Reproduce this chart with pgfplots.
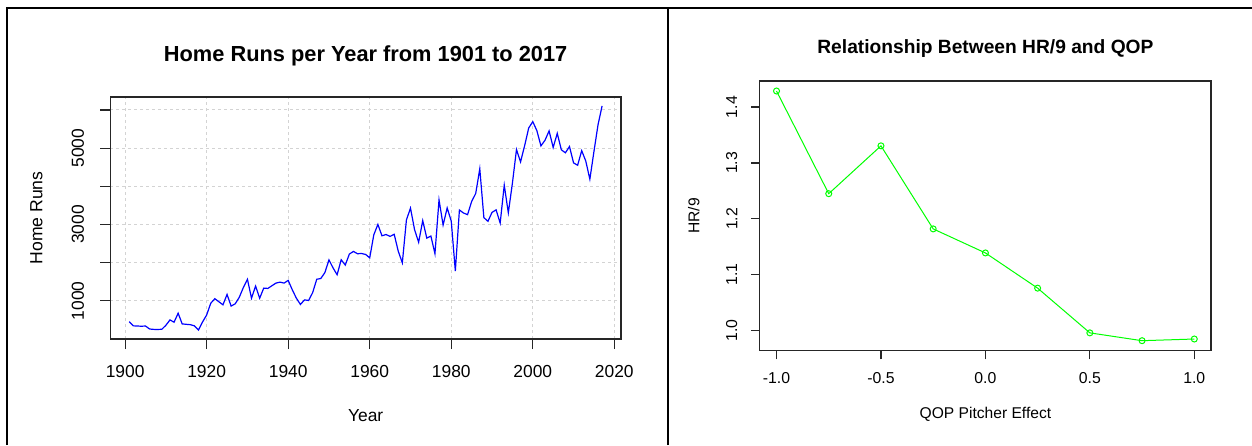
\documentclass[border=0pt]{standalone}
\usepackage{fontspec}
\setmainfont{Liberation Sans}
\usepackage{pgfplots}
\usepackage{pgfplotstable}
\pgfplotsset{compat=1.18}
\definecolor{rblue}{RGB}{0,0,255}
\definecolor{rgreen}{RGB}{0,255,0}
\definecolor{rgrid}{RGB}{211,211,211}
\pgfplotstableread{
year hr
1901 455
1902 345
1903 340
1904 335
1905 340
1906 262
1907 252
1908 250
1909 255
1910 360
1911 500
1912 440
1913 676
1914 395
1915 385
1916 375
1917 345
1918 235
1919 448
1920 630
1921 937
1922 1055
1923 975
1924 896
1925 1167
1926 863
1927 922
1928 1093
1929 1349
1930 1565
1931 1068
1932 1385
1933 1068
1934 1333
1935 1325
1936 1395
1937 1465
1938 1490
1939 1465
1940 1535
1941 1290
1942 1070
1943 905
1944 1025
1945 1010
1946 1215
1947 1565
1948 1585
1949 1740
1950 2073
1951 1863
1952 1684
1953 2076
1954 1937
1955 2224
1956 2294
1957 2234
1958 2240
1959 2215
1960 2127
1961 2730
1962 3001
1963 2704
1964 2737
1965 2688
1966 2743
1967 2299
1968 1995
1969 3119
1970 3429
1971 2863
1972 2534
1973 3102
1974 2642
1975 2698
1976 2235
1977 3644
1978 2986
1979 3433
1980 3087
1981 1781
1982 3379
1983 3301
1984 3258
1985 3602
1986 3813
1987 4458
1988 3180
1989 3083
1990 3317
1991 3383
1992 3038
1993 4030
1994 3306
1995 4081
1996 4962
1997 4640
1998 5064
1999 5528
2000 5693
2001 5458
2002 5059
2003 5207
2004 5451
2005 5017
2006 5386
2007 4957
2008 4878
2009 5042
2010 4613
2011 4552
2012 4934
2013 4661
2014 4186
2015 4909
2016 5610
2017 6105
}\hrdata
\pgfplotstableread{
qop hr9
-1.00 1.4287
-0.75 1.245
-0.50 1.3306
-0.25 1.182
0.00 1.139
0.25 1.076
0.50 0.996
0.75 0.982
1.00 0.985
}\qopdata
\begin{document}
\begin{tikzpicture}
\path[use as bounding box] (0,0) rectangle (626pt,222.5pt);
\fill[white] (0,0) rectangle (626pt,222.5pt);
\draw[line width=0.8pt] (3.65pt,218.35pt) -- (626pt,218.35pt);
\draw[line width=0.9pt] (3.65pt,0) -- (3.65pt,218.75pt);
\draw[line width=1pt] (333.85pt,0) -- (333.85pt,218.35pt);

\begin{axis}[
  at={(55.15pt,53pt)}, anchor=south west,
  scale only axis, width=255.35pt, height=121pt,
  xmin=1896.36, xmax=2021.64, ymin=0.2, ymax=6339.8,
  axis line style={black!85, line width=0.6pt},
  tick pos=left, tick align=outside, major tick length=5pt,
  tick style={black!85, line width=0.6pt},
  xtick={1900,1920,...,2020},
  xticklabels={1900,1920,1940,1960,1980,2000,2020},
  ytick={1000,2000,...,6000},
  yticklabels={1000,,3000,,5000,},
  xticklabel style={font=\fontsize{8.7}{10}\selectfont, anchor=base, inner sep=0pt, yshift=-14pt},
  yticklabel style={font=\fontsize{8.7}{10}\selectfont, xshift=-11.15pt, rotate=90, anchor=center, inner sep=0pt},
  grid=major,
  major grid style={rgrid, line width=0.5pt, dash pattern=on 1.5pt off 1.5pt},
  every axis title shift=0pt,
  title={Home Runs per Year from 1901 to 2017},
  title style={at={(axis description cs:0.5,1.14463)}, anchor=base, inner sep=0pt, font=\fontsize{10.9}{13}\selectfont\bfseries},
  xlabel={Year},
  xlabel style={at={(axis description cs:0.5,-0.33884)}, anchor=base, inner sep=0pt, font=\fontsize{8.7}{10}\selectfont},
  ylabel={Home Runs},
  ylabel style={at={(axis description cs:-0.14451,0.5)}, anchor=center, inner sep=0pt, font=\fontsize{8.8}{10}\selectfont},
]
\addplot[rblue, line width=0.6pt, no marks] table[x=year, y=hr] {\hrdata};
\end{axis}

\begin{axis}[
  at={(379.9pt,47.15pt)}, anchor=south west,
  scale only axis, width=225.6pt, height=134.85pt,
  xmin=-1.08, xmax=1.08, ymin=0.9641, ymax=1.4466,
  axis line style={black!85, line width=0.6pt},
  tick pos=left, tick align=outside, major tick length=4.3pt,
  tick style={black!85, line width=0.6pt},
  xtick={-1,-0.5,0,0.5,1},
  xticklabels={-1.0,-0.5,0.0,0.5,1.0},
  ytick={1.0,1.1,1.2,1.3,1.4},
  yticklabels={1.0,1.1,1.2,1.3,1.4},
  xticklabel style={font=\fontsize{7.9}{9}\selectfont, anchor=base, inner sep=0pt, yshift=-12pt},
  yticklabel style={font=\fontsize{7.9}{9}\selectfont, xshift=-9.7pt, rotate=90, anchor=center, inner sep=0pt},
  every axis title shift=0pt,
  title={Relationship Between HR/9 and QOP},
  title style={at={(axis description cs:0.5,1.10271)}, anchor=base, inner sep=0pt, font=\fontsize{9.6}{11}\selectfont\bfseries},
  xlabel={QOP Pitcher Effect},
  xlabel style={at={(axis description cs:0.5,-0.25139)}, anchor=base, inner sep=0pt, font=\fontsize{7.8}{9}\selectfont},
  ylabel={HR/9},
  ylabel style={at={(axis description cs:-0.14628,0.5)}, anchor=center, inner sep=0pt, font=\fontsize{7.8}{9}\selectfont},
]
\addplot[rgreen, line width=0.5pt, mark=o, mark size=1.5pt, mark options={solid, line width=0.5pt}] table[x=qop, y=hr9] {\qopdata};
\end{axis}
\end{tikzpicture}
\end{document}
